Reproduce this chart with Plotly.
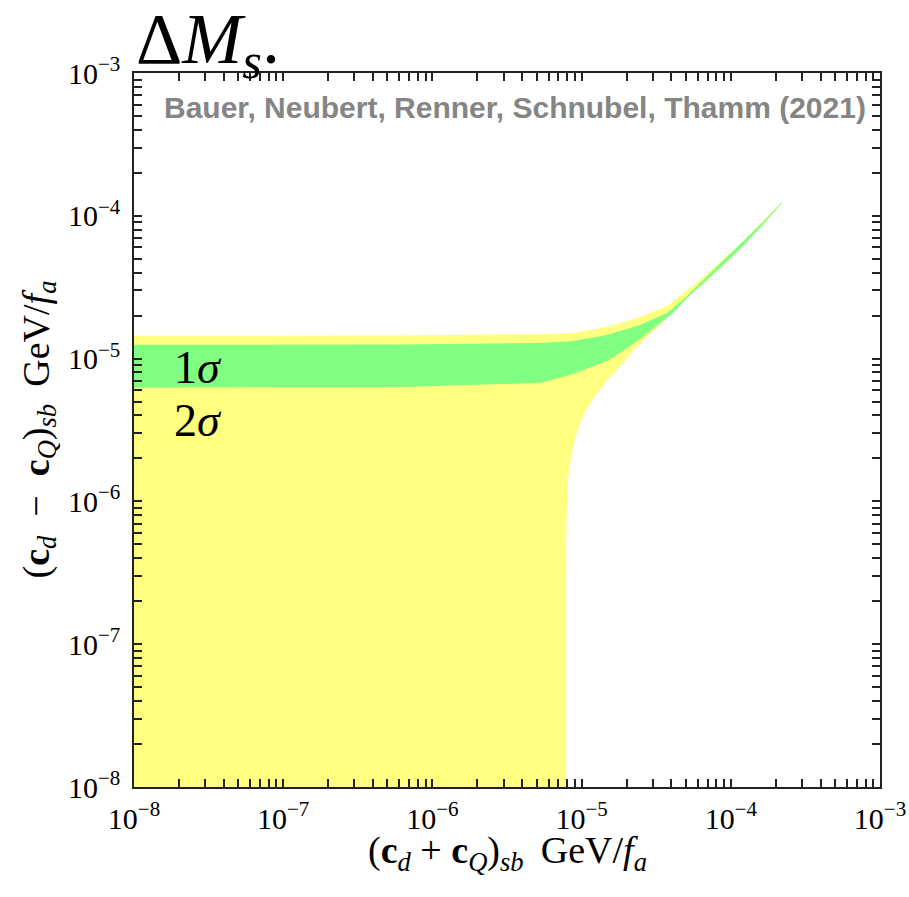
import plotly.graph_objects as go

# 2-sigma region boundary (upper edge, left -> right)
sig2_upper_x = [1e-9, 6.07e-7, 5.26e-6, 8.76e-6, 1.48e-5, 2.46e-5, 3.74e-5, 4.93e-5, 6.22e-5, 8.47e-5, 1.153e-4, 1.569e-4, 2.20e-4]
sig2_upper_y = [1.44e-5, 1.451e-5, 1.487e-5, 1.511e-5, 1.665e-5, 1.956e-5, 2.335e-5, 2.927e-5, 3.551e-5, 4.749e-5, 6.345e-5, 8.76e-5, 1.249e-4]
# 2-sigma region boundary (lower/right edge, right -> left / top -> bottom)
sig2_lower_x = [2.20e-4, 1.569e-4, 1.153e-4, 8.47e-5, 6.22e-5, 5.50e-5, 4.57e-5, 3.74e-5, 2.87e-5, 2.21e-5, 1.727e-5, 1.45e-5, 1.328e-5, 1.20e-5, 1.085e-5, 9.76e-6, 9.05e-6, 8.62e-6, 8.30e-6, 8.10e-6, 7.98e-6, 7.90e-6, 7.86e-6, 7.86e-6, 1e-9]
sig2_lower_y = [1.229e-4, 8.21e-5, 5.855e-5, 4.311e-5, 3.173e-5, 2.927e-5, 2.373e-5, 1.925e-5, 1.487e-5, 1.13e-5, 8.32e-6, 6.90e-6, 6.03e-6, 5.30e-6, 4.45e-6, 3.54e-6, 2.75e-6, 2.18e-6, 1.75e-6, 1.41e-6, 1.05e-6, 6.0e-7, 2.82e-7, 1e-9, 1e-9]

# 1-sigma band
sig1_upper_x = [1e-9, 6.07e-7, 5.26e-6, 8.76e-6, 1.48e-5, 2.46e-5, 3.74e-5, 4.93e-5, 6.22e-5, 8.47e-5, 1.153e-4, 1.569e-4, 2.20e-4]
sig1_upper_y = [1.245e-5, 1.255e-5, 1.286e-5, 1.328e-5, 1.463e-5, 1.719e-5, 2.086e-5, 2.657e-5, 3.384e-5, 4.598e-5, 6.245e-5, 8.62e-5, 1.249e-4]
sig1_lower_x = [2.20e-4, 1.569e-4, 1.153e-4, 8.47e-5, 6.22e-5, 5.09e-5, 4.10e-5, 3.20e-5, 2.46e-5, 1.894e-5, 1.48e-5, 8.76e-6, 5.26e-6, 6.07e-7, 1e-9]
sig1_lower_y = [1.229e-4, 8.21e-5, 5.855e-5, 4.311e-5, 3.224e-5, 2.657e-5, 2.086e-5, 1.692e-5, 1.372e-5, 1.13e-5, 9.62e-6, 7.80e-6, 6.75e-6, 6.325e-6, 6.225e-6]

major_vals = [1e-8, 1e-7, 1e-6, 1e-5, 1e-4, 1e-3]
major_text = ["10<sup>−8</sup>", "10<sup>−7</sup>", "10<sup>−6</sup>", "10<sup>−5</sup>", "10<sup>−4</sup>", "10<sup>−3</sup>"]
minor_vals = [m * d for d in [1e-8, 1e-7, 1e-6, 1e-5, 1e-4] for m in range(2, 10)]

tick_vals = major_vals + minor_vals
tick_text = major_text + [""] * len(minor_vals)

YELLOW = "rgb(255,255,128)"
GREEN = "rgb(128,255,128)"

fig = go.Figure()
fig.add_trace(go.Scatter(
    x=sig2_upper_x + sig2_lower_x, y=sig2_upper_y + sig2_lower_y,
    fill="toself", fillcolor=YELLOW, mode="lines", line=dict(width=0, color=YELLOW),
    hoverinfo="skip", showlegend=False))
fig.add_trace(go.Scatter(
    x=sig1_upper_x + sig1_lower_x, y=sig1_upper_y + sig1_lower_y,
    fill="toself", fillcolor=GREEN, mode="lines", line=dict(width=0, color=GREEN),
    hoverinfo="skip", showlegend=False))

SERIF = "Liberation Serif"
axis = dict(
    type="log", range=[-8, -3], showgrid=False, zeroline=False, automargin=False,
    showline=True, linecolor="#222", linewidth=1.5, mirror="allticks", layer="above traces",
    ticks="inside", ticklen=8, tickwidth=1.5, tickcolor="#222",
    tickmode="array", tickvals=tick_vals, ticktext=tick_text,
    tickfont=dict(family=SERIF, size=30, color="black"),
)

annotations = [
    dict(text="Δ<i>M</i><sub><i>s</i></sub>.", x=0.0, y=1.041, xref="paper", yref="paper",
         xanchor="left", yanchor="middle", showarrow=False,
         font=dict(family=SERIF, size=72, color="black")),
    dict(text="<b>Bauer, Neubert, Renner, Schnubel, Thamm (2021)</b>", x=0.984, y=0.952,
         xref="paper", yref="paper", xanchor="right", yanchor="middle", showarrow=False,
         font=dict(family="Liberation Sans", size=30, color="#858585")),
    dict(text="1<i>σ</i>", x=0.051, y=0.587, xref="paper", yref="paper",
         xanchor="left", yanchor="middle", showarrow=False,
         font=dict(family=SERIF, size=46, color="black")),
    dict(text="2<i>σ</i>", x=0.051, y=0.514, xref="paper", yref="paper",
         xanchor="left", yanchor="middle", showarrow=False,
         font=dict(family=SERIF, size=46, color="black")),
    dict(text="(<b>c</b><sub><i>d</i></sub> + <b>c</b><sub><i>Q</i></sub>)<sub><i>sb</i></sub>\u2009 GeV/<i>f</i><sub><i>a</i></sub>",
         x=0.501, y=-0.092, xref="paper", yref="paper", xanchor="center", yanchor="middle",
         showarrow=False, font=dict(family=SERIF, size=38, color="black")),
    dict(text="(<b>c</b><sub><i>d</i></sub>  −  <b>c</b><sub><i>Q</i></sub>)<sub><i>sb</i></sub>\u2009 GeV/<i>f</i><sub><i>a</i></sub>",
         x=-0.128, y=0.5, xref="paper", yref="paper", xanchor="center", yanchor="middle",
         textangle=-90, showarrow=False, font=dict(family=SERIF, size=38, color="black")),
]

fig.update_layout(
    width=909, height=897,
    margin=dict(l=134, r=29, t=73, b=110),
    paper_bgcolor="white", plot_bgcolor="white",
    xaxis=dict(ticklabelstandoff=4, **axis),
    yaxis=dict(ticklabelstandoff=6, **axis),
    annotations=annotations,
)

fig.write_html("out.html")
